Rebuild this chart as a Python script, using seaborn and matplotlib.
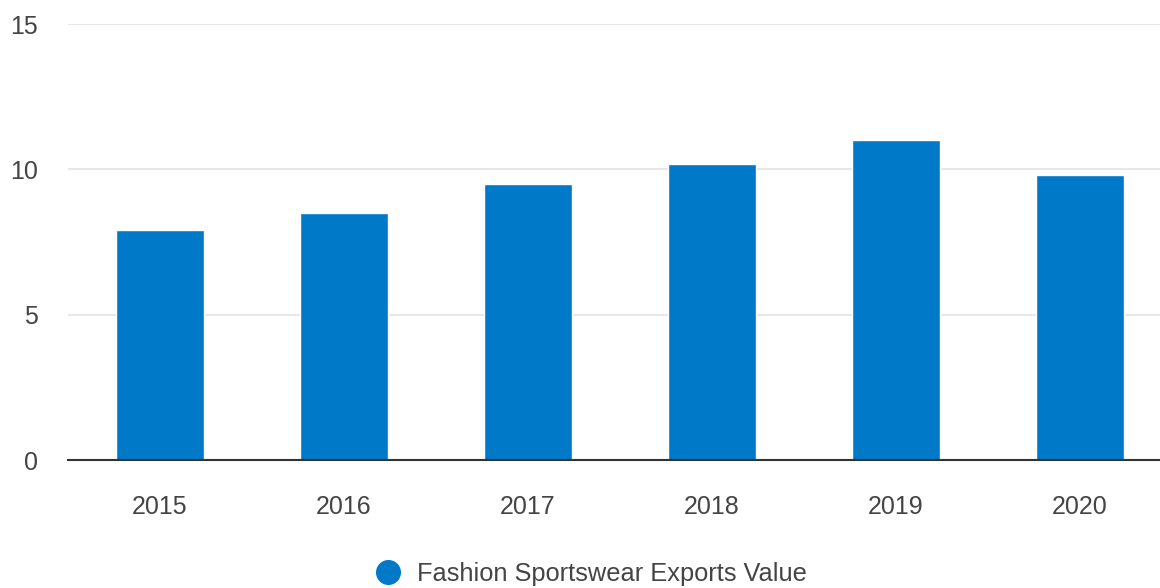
import matplotlib
matplotlib.use("Agg")
import matplotlib.pyplot as plt
import seaborn as sns
import pandas as pd
from matplotlib.lines import Line2D

years = ["2015", "2016", "2017", "2018", "2019", "2020"]
values = [7.9, 8.5, 9.5, 10.2, 11.0, 9.8]
series_name = "Fashion Sportswear Exports Value"
yticks = [0, 5, 10, 15]

sns.set_theme(style="white")
plt.rcParams['font.family'] = ['Liberation Sans', 'DejaVu Sans']

df = pd.DataFrame({"year": years, "value": values})

W, H = 1160, 588
fig = plt.figure(figsize=(W / 100, H / 100), dpi=100)
left, right, top, bottom = 68, 1172, 24, 460
ax = fig.add_axes([left / W, (H - bottom) / H, (right - left) / W, (bottom - top) / H])

sns.barplot(data=df, x="year", y="value", color="#0079C8", saturation=1,
            width=0.478, ax=ax, zorder=3)

ax.set_xlim(-0.5, 5.5)
ax.set_ylim(0, 15)
ax.set_yticks(yticks)
ax.set_yticklabels([str(t) for t in yticks])
ax.yaxis.grid(True, color="#e3e3e3", linewidth=1.2, zorder=0)
ax.set_axisbelow(True)
for s in ["top", "right", "left"]:
    ax.spines[s].set_visible(False)
ax.spines["bottom"].set_color("#333333")
ax.spines["bottom"].set_linewidth(1.5)
ax.spines["bottom"].set_zorder(4)
ax.tick_params(axis="y", length=0, pad=21.5, labelsize=18, labelcolor="#444444")
ax.tick_params(axis="x", length=0, pad=25, labelsize=18, labelcolor="#444444")
ax.set_xlabel("")
ax.set_ylabel("")

handle = Line2D([0], [0], marker="o", linestyle="", markersize=17,
                markerfacecolor="#0079C8", markeredgecolor="#0079C8")
fig.legend([handle], [series_name], loc="center", bbox_to_anchor=(590 / W, 1 - 574 / H),
           frameon=False, fontsize=18.3, labelcolor="#444444", handletextpad=0.55,
           borderpad=0, handlelength=1.2)

fig.savefig("out.png", dpi=100)
